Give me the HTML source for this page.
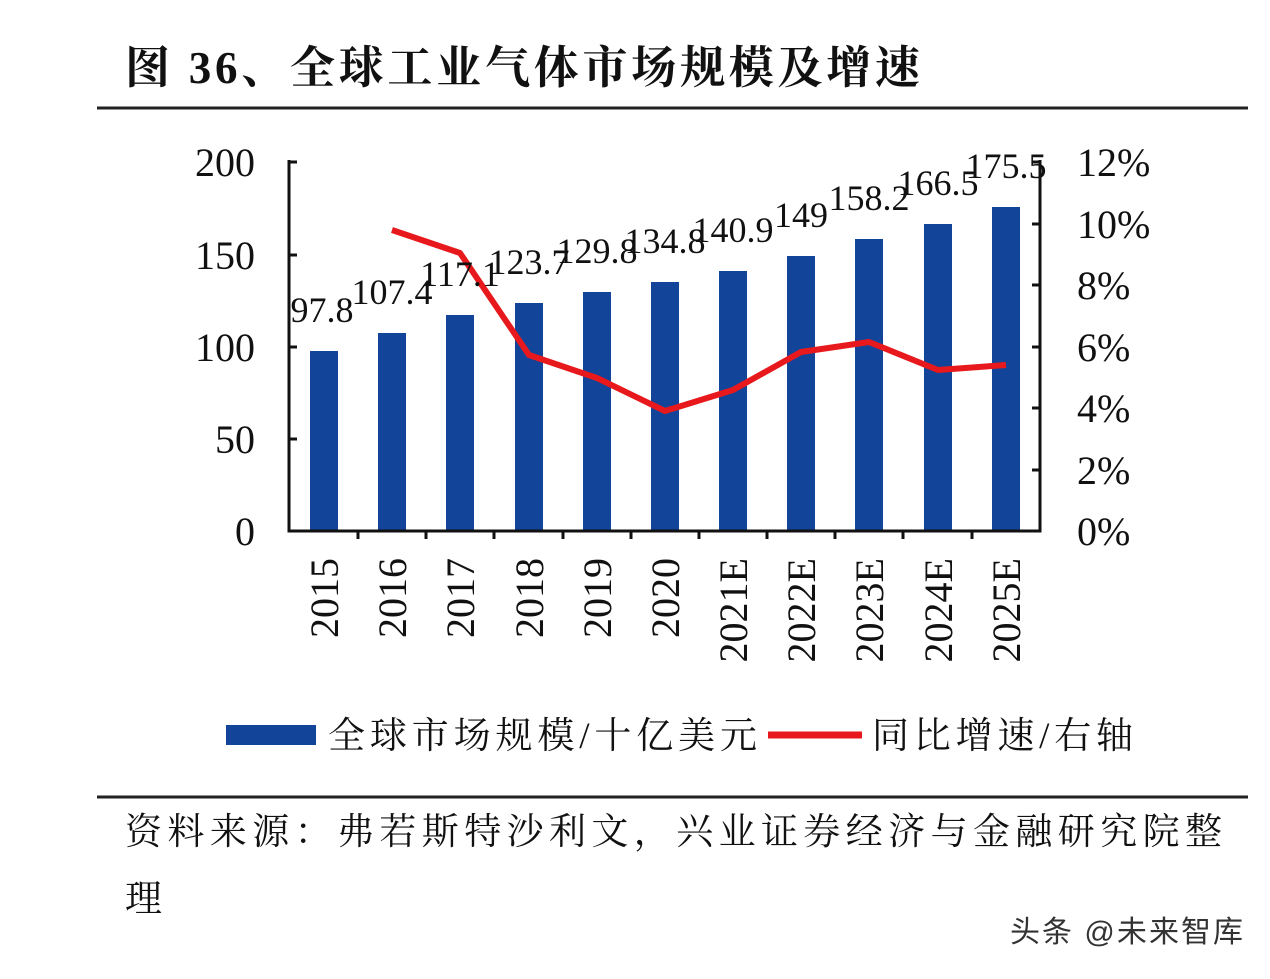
<!DOCTYPE html>
<html><head><meta charset="utf-8"><style>
body{margin:0;background:#fff;width:1270px;height:974px;overflow:hidden}
svg text{font-family:"Liberation Serif","Noto Serif CJK SC",serif}
</style></head><body>
<svg width="1270" height="974" viewBox="0 0 1270 974" xmlns="http://www.w3.org/2000/svg">
<rect width="1270" height="974" fill="#fff"/>
<text x="125" y="83" font-size="45" font-weight="bold" fill="#111" textLength="795" lengthAdjust="spacing">图 36、全球工业气体市场规模及增速</text>
<line x1="97" y1="108" x2="1248" y2="108" stroke="#222" stroke-width="3"/>
<g font-size="40" fill="#111" text-anchor="end">
<text x="255" y="176">200</text><text x="255" y="269">150</text><text x="255" y="361">100</text><text x="255" y="453">50</text><text x="255" y="545">0</text>
</g>
<g font-size="40" fill="#111">
<text x="1077" y="176">12%</text><text x="1077" y="238">10%</text><text x="1077" y="299">8%</text><text x="1077" y="361">6%</text><text x="1077" y="422">4%</text><text x="1077" y="484">2%</text><text x="1077" y="545">0%</text>
</g>
<g fill="#12449a">
<rect x="310" y="351" width="28" height="180"/>
<rect x="378" y="333" width="28" height="198"/>
<rect x="446" y="315" width="28" height="216"/>
<rect x="515" y="303" width="28" height="228"/>
<rect x="583" y="292" width="28" height="239"/>
<rect x="651" y="282" width="28" height="249"/>
<rect x="719" y="271" width="28" height="260"/>
<rect x="787" y="256" width="28" height="275"/>
<rect x="855" y="239" width="28" height="292"/>
<rect x="924" y="224" width="28" height="307"/>
<rect x="992" y="207" width="28" height="324"/>
</g>
<g stroke="#111" stroke-width="3" fill="none">
<path d="M289 160 V531 H1040 V160"/>
<path d="M289 162h8M289 255h8M289 347h8M289 439h8"/>
<path d="M1040 162h-8M1040 224h-8M1040 285h-8M1040 347h-8M1040 408h-8M1040 470h-8"/>
<path d="M358 531v8M426 531v8M494 531v8M563 531v8M631 531v8M699 531v8M767 531v8M835 531v8M903 531v8M972 531v8"/>
</g>
<polyline points="392,230 460,253 529,355 597,378 665,411 733,390 801,352 869,342 938,370 1006,365" fill="none" stroke="#e8191c" stroke-width="6" stroke-linejoin="round"/>
<g font-size="36" fill="#111" text-anchor="middle">
<text x="322" y="322">97.8</text><text x="392" y="304">107.4</text><text x="460" y="286">117.1</text><text x="529" y="274">123.7</text><text x="597" y="263">129.8</text><text x="665" y="253">134.8</text><text x="733" y="242">140.9</text><text x="801" y="227">149</text><text x="869" y="210">158.2</text><text x="938" y="195">166.5</text><text x="1006" y="178">175.5</text>
</g>
<g font-size="40" fill="#111" text-anchor="end">
<text transform="translate(338,558) rotate(-90)">2015</text>
<text transform="translate(406,558) rotate(-90)">2016</text>
<text transform="translate(474,558) rotate(-90)">2017</text>
<text transform="translate(543,558) rotate(-90)">2018</text>
<text transform="translate(611,558) rotate(-90)">2019</text>
<text transform="translate(679,558) rotate(-90)">2020</text>
<text transform="translate(747,558) rotate(-90)">2021E</text>
<text transform="translate(815,558) rotate(-90)">2022E</text>
<text transform="translate(883,558) rotate(-90)">2023E</text>
<text transform="translate(952,558) rotate(-90)">2024E</text>
<text transform="translate(1020,558) rotate(-90)">2025E</text>
</g>
<rect x="226" y="725" width="90" height="20" fill="#12449a"/>
<text x="328" y="748" font-size="37" fill="#111" textLength="429" lengthAdjust="spacing">全球市场规模/十亿美元</text>
<line x1="768" y1="735" x2="862" y2="735" stroke="#e8191c" stroke-width="7"/>
<text x="872" y="748" font-size="37" fill="#111" textLength="261" lengthAdjust="spacing">同比增速/右轴</text>
<line x1="97" y1="797" x2="1248" y2="797" stroke="#222" stroke-width="3"/>
<text x="125" y="844" font-size="37" fill="#111" textLength="1097" lengthAdjust="spacing">资料来源：弗若斯特沙利文，兴业证券经济与金融研究院整</text>
<text x="125" y="911" font-size="37" fill="#111">理</text>
<text x="1010" y="942" font-size="30" fill="#333" textLength="233" lengthAdjust="spacing" style="font-family:'Liberation Sans','Noto Sans CJK SC',sans-serif">头条 @未来智库</text>
</svg>
</body></html>
